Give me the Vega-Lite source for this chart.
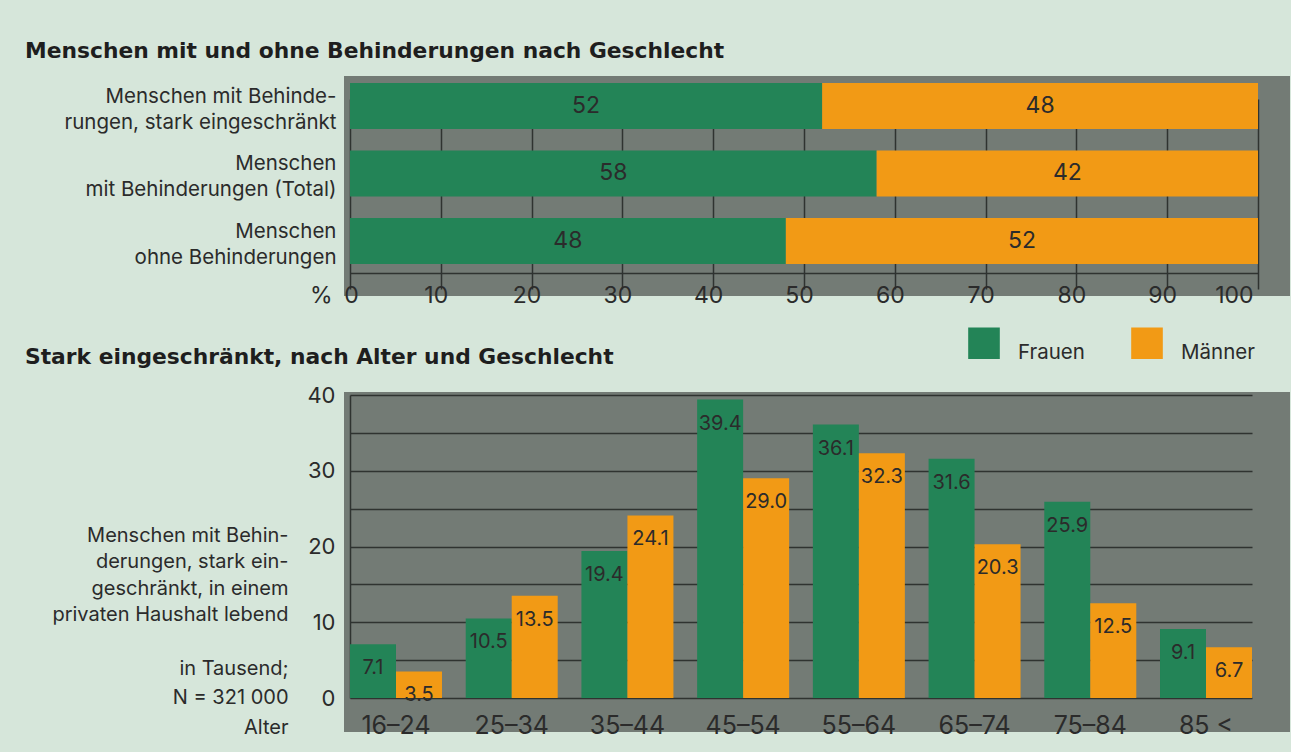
{
  "$schema": "https://vega.github.io/schema/vega-lite/v6.json",
  "background": "#d6e6da",
  "padding": {"left": 25, "top": 41, "right": 1, "bottom": 14},
  "spacing": 20,
  "config": {
    "font": "Inter",
    "view": {"stroke": null},
    "axis": {"labelColor": "#2b2b2b", "titleColor": "#2b2b2b", "labelFont": "Inter", "titleFont": "Inter"},
    "legend": {"labelFont": "Inter"},
    "title": {"color": "#1e1e1e", "font": "DejaVu Sans"}
  },
  "resolve": {"scale": {"color": "independent"}, "legend": {"color": "independent"}},
  "vconcat": [
    {
      "title": {"text": "Menschen mit und ohne Behinderungen nach Geschlecht", "anchor": "start", "frame": "group", "dx": -319, "fontSize": 21.8, "fontWeight": "bold", "offset": 13},
      "width": 946,
      "height": 220,
      "view": {"fill": "#737b75", "stroke": null},
      "data": {"values": [
        {"cat": "Menschen mit Behinderungen, stark eingeschränkt", "g": "Frauen", "value": 52},
        {"cat": "Menschen mit Behinderungen, stark eingeschränkt", "g": "Männer", "value": 48},
        {"cat": "Menschen mit Behinderungen (Total)", "g": "Frauen", "value": 58},
        {"cat": "Menschen mit Behinderungen (Total)", "g": "Männer", "value": 42},
        {"cat": "Menschen ohne Behinderungen", "g": "Frauen", "value": 48},
        {"cat": "Menschen ohne Behinderungen", "g": "Männer", "value": 52}
      ]},
      "transform": [
        {"stack": "value", "groupby": ["cat"], "sort": [{"field": "g", "order": "ascending"}], "as": ["v0", "v1"]},
        {"calculate": "(datum.v0 + datum.v1) / 2", "as": "mid"}
      ],
      "encoding": {
        "y": {
          "field": "cat", "type": "nominal", "sort": null,
          "scale": {"range": [7, 197], "paddingInner": 0.3185, "paddingOuter": 0.0667, "align": 0},
          "axis": {
            "title": null, "domain": false, "ticks": false, "grid": false,
            "labelPadding": 8, "labelFontSize": 20.5, "labelLineHeight": 26, "labelLimit": 400,
            "labelAlign": "right", "labelBaseline": "middle", "labelOffset": -9,
            "labelExpr": "datum.value == 'Menschen mit Behinderungen, stark eingeschränkt' ? ['Menschen mit Behinde-', 'rungen, stark eingeschränkt'] : datum.value == 'Menschen mit Behinderungen (Total)' ? ['Menschen', 'mit Behinderungen (Total)'] : ['Menschen', 'ohne Behinderungen']"
          }
        }
      },
      "layer": [
        {
          "mark": {"type": "bar"},
          "encoding": {
            "x": {
              "field": "v0", "type": "quantitative",
              "scale": {"domain": [0, 100], "range": [6, 914], "nice": false, "zero": false},
              "axis": {
                "orient": "bottom", "offset": -23, "values": [0, 10, 20, 30, 40, 50, 60, 70, 80, 90, 100],
                "grid": true, "gridColor": "#2f3330", "gridWidth": 1.5, "gridOpacity": 1,
                "ticks": false, "domain": true, "domainColor": "#2f3330", "domainWidth": 1.5,
                "labelFontSize": 23, "labelPadding": 11, "labelFlush": false,
                "labelAlign": {"expr": "datum.value == 100 ? 'right' : 'center'"},
                "labelOffset": {"expr": "datum.value == 0 ? 1 : -5"},
                "title": "%", "titleFontSize": 23, "titleFontWeight": "normal",
                "titleX": -12, "titleY": 11, "titleAlign": "right", "titleBaseline": "top", "titleAngle": 0
              }
            },
            "x2": {"field": "v1"},
            "color": {
              "field": "g", "type": "nominal",
              "scale": {"domain": ["Frauen", "Männer"], "range": ["#238457", "#f29a15"]},
              "legend": null
            }
          }
        },
        {
          "mark": {"type": "text", "fontSize": 23, "color": "#2b2b2b", "baseline": "middle"},
          "encoding": {
            "x": {"field": "mid", "type": "quantitative"},
            "text": {"field": "value", "type": "quantitative"}
          }
        }
      ]
    },
    {
      "title": {"text": "Stark eingeschränkt, nach Alter und Geschlecht", "anchor": "start", "frame": "group", "dx": -319, "fontSize": 21.8, "fontWeight": "bold", "offset": -42},
      "width": 946,
      "height": 340,
      "view": {"fill": "#737b75", "stroke": null},
      "data": {"values": [
        {"age": "16–24", "g": "Frauen", "v": 7.1},
        {"age": "16–24", "g": "Männer", "v": 3.5},
        {"age": "25–34", "g": "Frauen", "v": 10.5},
        {"age": "25–34", "g": "Männer", "v": 13.5},
        {"age": "35–44", "g": "Frauen", "v": 19.4},
        {"age": "35–44", "g": "Männer", "v": 24.1},
        {"age": "45–54", "g": "Frauen", "v": 39.4},
        {"age": "45–54", "g": "Männer", "v": 29.0},
        {"age": "55–64", "g": "Frauen", "v": 36.1},
        {"age": "55–64", "g": "Männer", "v": 32.3},
        {"age": "65–74", "g": "Frauen", "v": 31.6},
        {"age": "65–74", "g": "Männer", "v": 20.3},
        {"age": "75–84", "g": "Frauen", "v": 25.9},
        {"age": "75–84", "g": "Männer", "v": 12.5},
        {"age": "85 <", "g": "Frauen", "v": 9.1},
        {"age": "85 <", "g": "Männer", "v": 6.7}
      ]},
      "encoding": {
        "x": {
          "field": "age", "type": "nominal", "sort": null,
          "scale": {"range": [6, 908], "paddingInner": 0.205, "paddingOuter": 0},
          "axis": {
            "orient": "bottom", "offset": -34, "domain": false, "ticks": false, "grid": false,
            "labelAngle": 0, "labelFontSize": 25, "labelPadding": 15,
            "title": ["in Tausend;", "N = 321 000", "Alter"], "titleFontSize": 20, "titleFontWeight": "normal",
            "titleLineHeight": 29.5,
            "titleX": -56, "titleY": -24, "titleAlign": "right", "titleBaseline": "alphabetic", "titleAngle": 0
          }
        },
        "xOffset": {"field": "g", "type": "nominal", "sort": ["Frauen", "Männer"], "scale": {"paddingInner": 0, "paddingOuter": 0}},
        "y": {
          "field": "v", "type": "quantitative",
          "scale": {"domain": [0, 40], "range": [306, 3], "nice": false},
          "axis": {
            "orient": "left", "offset": -6, "values": [0, 5, 10, 15, 20, 25, 30, 35, 40],
            "labelExpr": "datum.value % 10 === 0 ? datum.label : ''",
            "grid": true, "gridColor": "#2f3330", "gridWidth": 1.5, "gridOpacity": 1,
            "ticks": false, "domain": true, "domainColor": "#2f3330", "domainWidth": 1.5,
            "labelFontSize": 22, "labelPadding": 15,
            "title": ["Menschen mit Behin-", "derungen, stark ein-", "geschränkt, in einem", "privaten Haushalt lebend"],
            "titleFontSize": 20, "titleFontWeight": "normal", "titleLineHeight": 26.5,
            "titleAngle": 0, "titleAlign": "right", "titleBaseline": "alphabetic",
            "titleX": -62, "titleY": 149
          }
        }
      },
      "layer": [
        {
          "mark": {"type": "bar"},
          "encoding": {
            "color": {
              "field": "g", "type": "nominal",
              "scale": {"domain": ["Frauen", "Männer"], "range": ["#238457", "#f29a15"]},
              "legend": {
                "orient": "none", "legendX": 624, "legendY": -65, "direction": "horizontal",
                "title": null, "padding": 0, "symbolType": "square", "symbolSize": 1000,
                "symbolStrokeWidth": 0, "symbolOpacity": 1, "labelFontSize": 20.5, "labelColor": "#2b2b2b",
                "labelOffset": 18, "labelBaseline": "top", "columnPadding": 46
              }
            }
          }
        },
        {
          "mark": {"type": "text", "baseline": "middle", "dy": 24, "fontSize": 20, "color": "#2b2b2b"},
          "encoding": {
            "text": {"field": "v", "type": "quantitative", "format": ".1f"}
          }
        }
      ]
    }
  ]
}
